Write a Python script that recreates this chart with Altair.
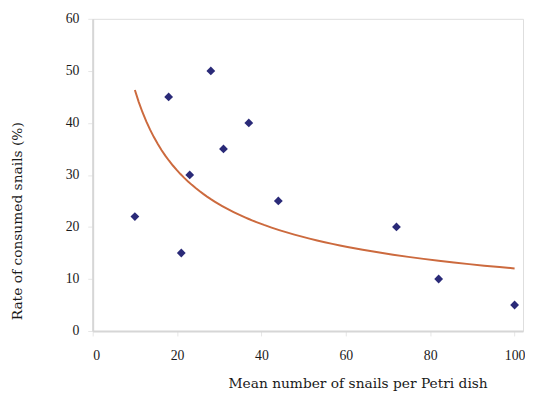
import altair as alt
import pandas as pd

snails_per_dish = [10, 18, 21, 23, 28, 31, 37, 44, 72, 82, 100]
consumed_rate = [22, 45, 15, 30, 50, 35, 40, 25, 20, 10, 5]
x_ticks = [0, 20, 40, 60, 80, 100]
y_ticks = [0, 10, 20, 30, 40, 50, 60]

df = pd.DataFrame({"x": snails_per_dish, "y": consumed_rate})

LABEL_FONT = "Liberation Serif"
TITLE_FONT = "DejaVu Serif"

xscale = alt.Scale(domain=[0, 102], nice=False, zero=False)
yscale = alt.Scale(domain=[0, 60], nice=False)

xaxis = alt.Axis(
    values=x_ticks, title="Mean number of snails per Petri dish", grid=False,
    domainColor="#d6d6d6", domainWidth=2, tickColor="#e6e6e6", tickSize=5,
    labelFont=LABEL_FONT, labelFontSize=14, labelColor="#1a1a1a", labelPadding=13,
    titleFont=TITLE_FONT, titleFontSize=14, titleFontWeight="normal", titleColor="#1a1a1a",
    titleX=269, titleY=53, titleAlign="center", titleBaseline="middle",
)
yaxis = alt.Axis(
    values=y_ticks, title="Rate of consumed snails (%)", grid=False,
    domainColor="#d6d6d6", domainWidth=2, tickColor="#e6e6e6", tickSize=5,
    labelFont=LABEL_FONT, labelFontSize=14, labelColor="#1a1a1a", labelPadding=9,
    titleFont=TITLE_FONT, titleFontSize=14, titleFontWeight="normal", titleColor="#1a1a1a",
    titleX=-76, titleY=205, titleAlign="center", titleBaseline="middle", titleAngle=-90,
)

points = alt.Chart(df).mark_point(
    shape="diamond", filled=True, size=80, color="#2a2a78", opacity=1
).encode(
    x=alt.X("x:Q", scale=xscale, axis=xaxis),
    y=alt.Y("y:Q", scale=yscale, axis=yaxis),
)

trend = alt.Chart(df).transform_regression(
    "x", "y", method="pow"
).mark_line(color="#cc6a3e", strokeWidth=2).encode(
    x=alt.X("x:Q", scale=xscale),
    y=alt.Y("y:Q", scale=yscale),
)

chart = alt.layer(trend, points).properties(
    width=437, height=317,
    autosize=alt.AutoSizeParams(type="none"),
    padding={"left": 86, "top": 8, "right": 2, "bottom": 65},
).configure_view(stroke=None).configure(background="white")

chart.save("out.html", embed_options={"renderer": "svg", "actions": False})
